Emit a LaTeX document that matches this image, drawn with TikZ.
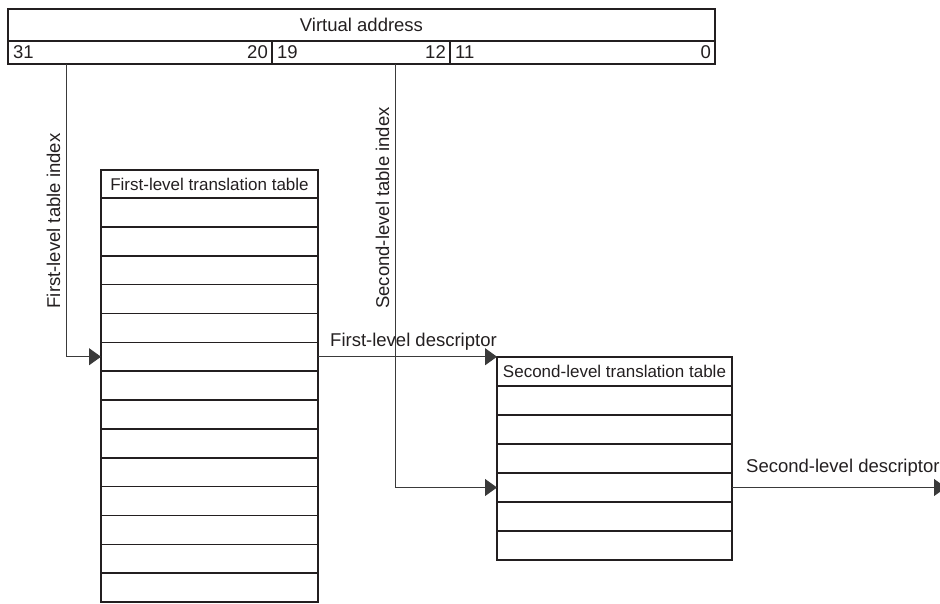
\documentclass[tikz,border=0pt]{standalone}
\usepackage{fontspec}
\setmainfont{Liberation Sans}
\usetikzlibrary{arrows.meta}
\definecolor{ink}{HTML}{231F20}
\definecolor{wire}{HTML}{3A3A3A}
\begin{document}
\begin{tikzpicture}[x=1pt,y=-1pt,
  cell/.style={draw=ink,line width=1.6pt,inner sep=0pt,outer sep=0pt,anchor=north west},
  frame/.style={draw=ink,line width=2.6pt},
  lbl/.style={font=\fontsize{18.5}{20}\selectfont,text=ink,inner sep=0pt},
  hdr/.style={font=\fontsize{17}{19}\selectfont,text=ink,inner sep=0pt},
  conn/.style={draw=wire,line width=1pt},
  tipc/.style={-{Triangle[length=12pt,width=17pt]}}]
\clip (0,0) rectangle (940,603);
\useasboundingbox (0,0) rectangle (940,603);
% virtual address bar
\node[cell,minimum width=707pt,minimum height=32pt] (va) at (8,9) {};
\node[cell,minimum width=264pt,minimum height=23pt] (f1) at (8,41) {};
\node[cell,minimum width=178pt,minimum height=23pt] (f2) at (272,41) {};
\node[cell,minimum width=265pt,minimum height=23pt] (f3) at (450,41) {};
\draw[frame] (va.north west) rectangle (f3.south east);
\node[lbl] (vat) at (va.center) {Virtual address};
\node[lbl,anchor=west] (n31) at ([xshift=5pt]f1.west) {31};
\node[lbl,anchor=east] (n20) at ([xshift=-4pt]f1.east) {20};
\node[lbl,anchor=west] (n19) at ([xshift=5pt]f2.west) {19};
\node[lbl,anchor=east] (n12) at ([xshift=-4pt]f2.east) {12};
\node[lbl,anchor=west] (n11) at ([xshift=5pt]f3.west) {11};
\node[lbl,anchor=east] (n0) at ([xshift=-4pt]f3.east) {0};
% first-level table
\node[cell,minimum width=217pt,minimum height=28pt] (t1h) at (101,170) {};
\node[hdr] (t1ht) at (t1h.center) {First-level translation table};
\foreach \i in {1,...,14}{
  \node[cell,minimum width=217pt,minimum height=28.86pt] (t1r\i) at (101,{198+(\i-1)*28.86}) {};
}
\draw[frame] (t1h.north west) rectangle (t1r14.south east);
% second-level table
\node[cell,minimum width=235pt,minimum height=29pt] (t2h) at (497,357) {};
\node[hdr] (t2ht) at (t2h.center) {Second-level translation table};
\foreach \i in {1,...,6}{
  \node[cell,minimum width=235pt,minimum height=29pt] (t2r\i) at (497,{386+(\i-1)*29}) {};
}
\draw[frame] (t2h.north west) rectangle (t2r6.south east);
% connectors
\coordinate (s1) at (66,64);
\coordinate (s2) at (395,64);
\coordinate (outend) at (946,487.5);
\draw[conn,tipc] (s1) |- (t1r6.west);
\draw[conn,tipc] (t1r6.east) -- (t1r6.east -| t2h.west);
\draw[conn,tipc] (s2) |- (t2r4.west);
\draw[conn,tipc] (t2r4.east) -- (outend);
% labels
\node[lbl,rotate=90,anchor=base] (l1) at (60,221) {First-level table index};
\node[lbl,rotate=90,anchor=base] (l2) at (389,208) {Second-level table index};
\node[lbl,anchor=base west] (l3) at (330,346) {First-level descriptor};
\node[lbl,anchor=base west] (l4) at (746,472) {Second-level descriptor};
\end{tikzpicture}
\end{document}
